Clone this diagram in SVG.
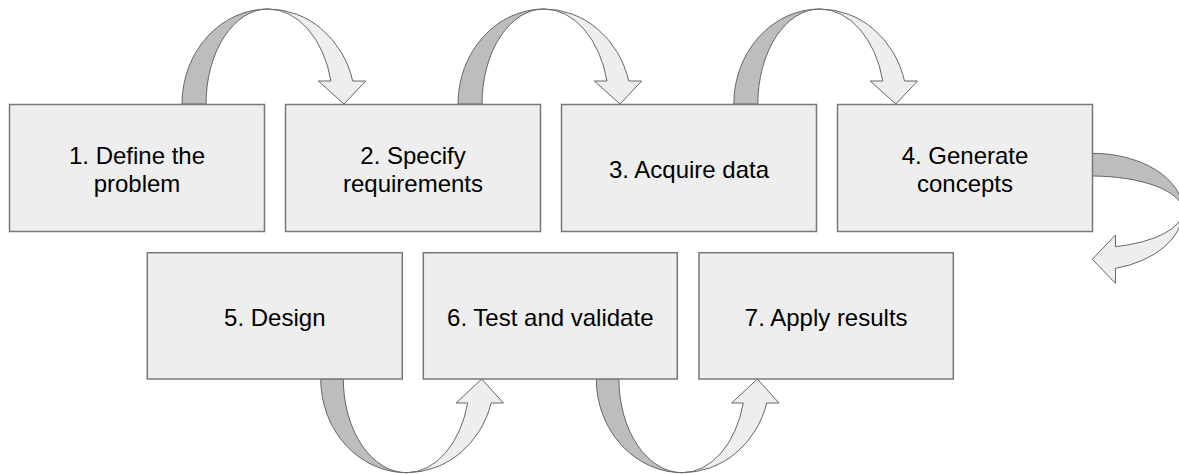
<svg xmlns="http://www.w3.org/2000/svg" width="1179" height="474" viewBox="0 0 1179 474">
<style>
.box{fill:#eeeeee;stroke:#777777;stroke-width:1.5}
.dk{fill:#bdbdbd;stroke:#666666;stroke-width:1;stroke-linejoin:round}
.lt{fill:#eeeeee;stroke:#666666;stroke-width:1;stroke-linejoin:round}
text{font-family:"Liberation Sans",Arial,sans-serif;font-size:24px;fill:#000;text-anchor:middle}
</style>
<defs>
<g id="arcTop">
<path class="dk" d="M182,104 A86 95 0 0 1 268,9 A62 95 0 0 0 206,104 Z"/>
<path class="lt" d="M268,9 A87.3 95 0 0 1 352.7,81 L365.7,81 L344,104 L318.3,81 L331,81 A64.9 95 0 0 0 268,9 Z"/>
</g>
<g id="arcBot">
<path class="dk" d="M320.7,379 A86 93.7 0 0 0 406.7,472.7 A63.4 93.7 0 0 1 343.3,379 Z"/>
<path class="lt" d="M406.7,472.7 A87.3 93.7 0 0 0 491.1,403 L503.4,403 L481.7,379 L456.1,403 L467.7,403 A63.1 93.7 0 0 1 406.7,472.7 Z"/>
</g>
</defs>
<g id="connectors">
<use href="#arcTop"/>
<use href="#arcTop" transform="translate(276,0)"/>
<use href="#arcTop" transform="translate(551.8,0)"/>
<g id="arc4to5">
<path class="dk" d="M1092,153.3 A91 57.7 0 0 1 1183,211 A91 35 0 0 0 1092,176 Z"/>
<path class="lt" d="M1183,211 A91 59.4 0 0 1 1115.5,268.3 L1115.5,283.3 L1092.3,259.3 L1115.5,235 L1115.5,246.7 A91 36.9 0 0 0 1183,211 Z"/>
</g>
<use href="#arcBot"/>
<use href="#arcBot" transform="translate(275.6,0)"/>
</g>
<g id="n1"><rect class="box" x="9.5" y="104.5" width="255" height="127"/><text x="137" y="163.5">1. Define the</text><text x="137" y="191.5">problem</text></g>
<g id="n2"><rect class="box" x="285.5" y="104.5" width="255" height="127"/><text x="413" y="163.5">2. Specify</text><text x="413" y="191.5">requirements</text></g>
<g id="n3"><rect class="box" x="561.5" y="104.5" width="255" height="127"/><text x="689" y="177.5">3. Acquire data</text></g>
<g id="n4"><rect class="box" x="837.5" y="104.5" width="255" height="127"/><text x="965" y="163.5">4. Generate</text><text x="965" y="191.5">concepts</text></g>
<g id="n5"><rect class="box" x="147.3" y="252.7" width="255" height="126.3"/><text x="274.8" y="325.7">5. Design</text></g>
<g id="n6"><rect class="box" x="423.3" y="252.7" width="254" height="126.3"/><text x="550.3" y="325.7">6. Test and validate</text></g>
<g id="n7"><rect class="box" x="699" y="252.7" width="254.3" height="126.3"/><text x="826.2" y="325.7">7. Apply results</text></g>
</svg>
